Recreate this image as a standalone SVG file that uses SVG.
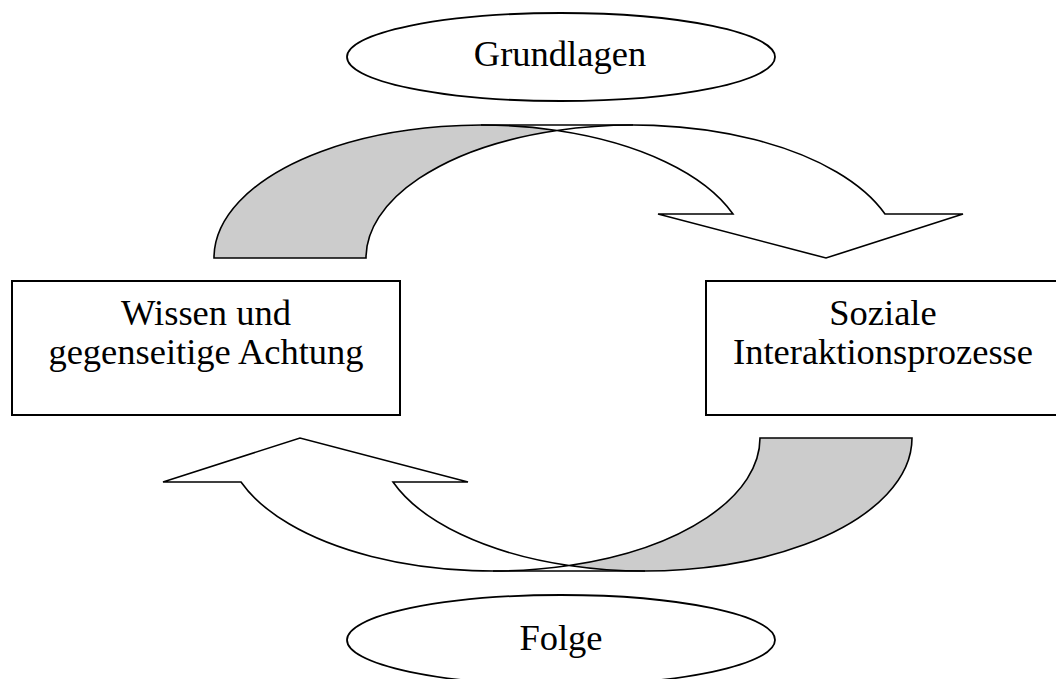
<svg xmlns="http://www.w3.org/2000/svg" width="1056" height="679" viewBox="0 0 1056 679">
<style>
.sh{stroke:#000;stroke-width:1.6;stroke-linejoin:miter}
.back{fill:#cccccc}
.front{fill:#ffffff}
.box{fill:#fff;stroke:#000;stroke-width:2}
.ell{fill:#fff;stroke:#000;stroke-width:1.8}
.t{font-family:"Liberation Serif","Times New Roman",serif;font-size:36.5px;fill:#000;text-anchor:middle}
</style>
<defs>
<g id="curvedArrow">
<path class="sh back" d="M214,258 A267,133 0 0 1 557,130.5 A267,133 0 0 0 366,258 Z"/>
<path class="sh front" d="M557,130.5 A267,133 0 0 1 885,214 L963,214 L826,258 L658,214 L733,214 A267,133 0 0 0 557,130.5 Z"/>
<path class="sh" fill="none" d="M481,125 H633"/>
</g>
</defs>
<g id="connectors">
<use id="arrow-top" href="#curvedArrow"/>
<use id="arrow-bottom" href="#curvedArrow" transform="rotate(180 563 348)"/>
</g>
<g id="node-grundlagen">
<ellipse class="ell" cx="561" cy="57" rx="214" ry="44"/>
<text class="t" x="560" y="66">Grundlagen</text>
</g>
<g id="node-folge">
<ellipse class="ell" cx="561" cy="640" rx="214" ry="45"/>
<text class="t" x="561" y="650">Folge</text>
</g>
<g id="node-wissen">
<rect class="box" x="12" y="281" width="388" height="134"/>
<text class="t" x="206" y="325">Wissen und</text>
<text class="t" x="206" y="364">gegenseitige Achtung</text>
</g>
<g id="node-soziale">
<rect class="box" x="706" y="281" width="356" height="134"/>
<text class="t" x="883" y="325">Soziale</text>
<text class="t" x="883" y="364">Interaktionsprozesse</text>
</g>
</svg>
